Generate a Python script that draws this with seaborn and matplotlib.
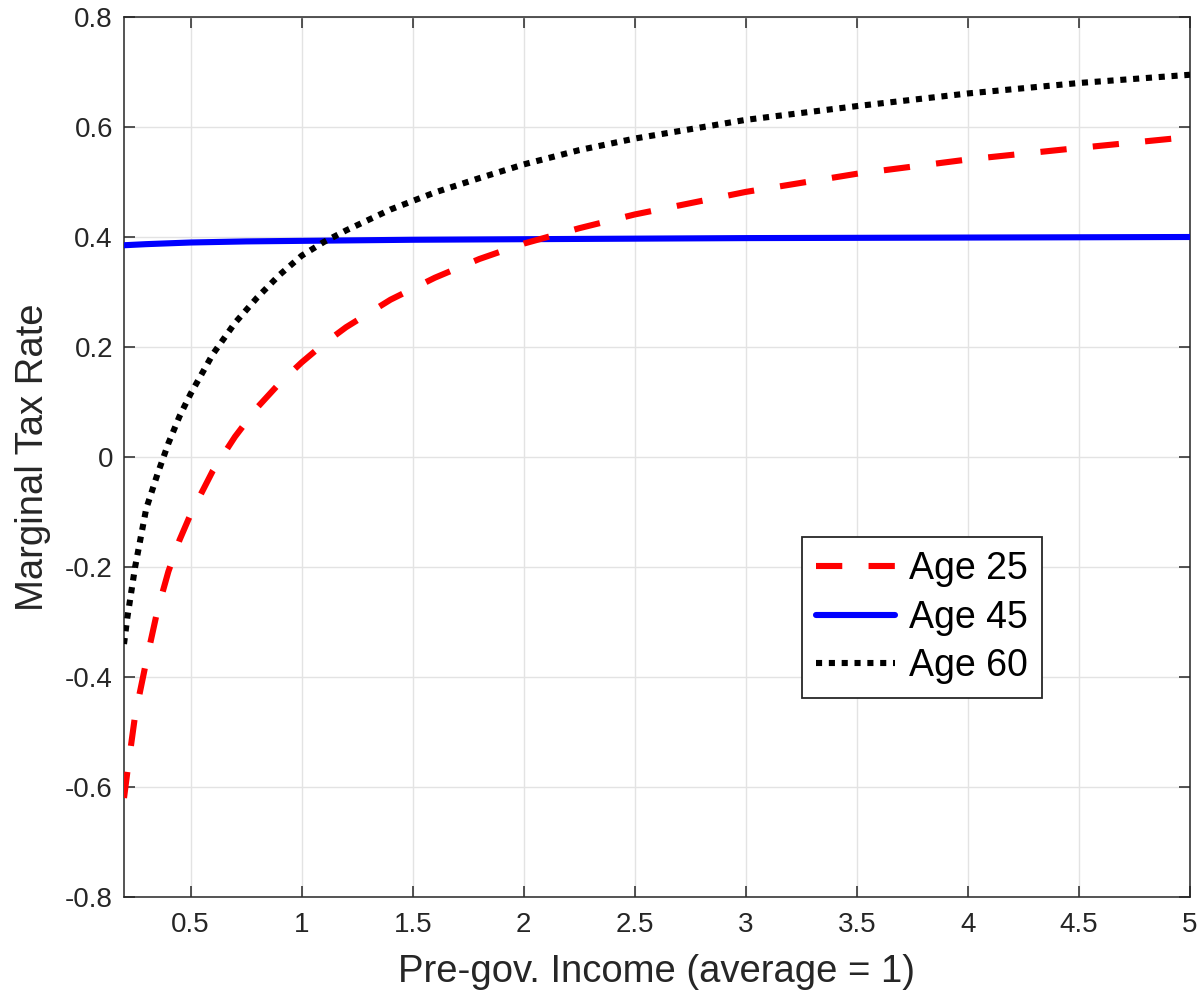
import matplotlib
matplotlib.use("Agg")
import matplotlib.pyplot as plt
import seaborn as sns
import pandas as pd
from matplotlib.ticker import FixedLocator, FuncFormatter

# ---- data ----
x_age25 = [0.2, 0.215, 0.25, 0.3, 0.35, 0.4, 0.45, 0.5, 0.6, 0.7, 0.8, 0.9, 1.0,
           1.1, 1.2, 1.4, 1.6, 1.8, 2.0, 2.25, 2.5, 3.0, 3.5, 4.0, 4.5, 5.0]
mtr_age25 = [-0.62, -0.573, -0.47, -0.372, -0.28, -0.208, -0.151, -0.104, -0.025,
             0.037, 0.090, 0.134, 0.172, 0.206, 0.236, 0.286, 0.326, 0.360, 0.388,
             0.416, 0.441, 0.482, 0.515, 0.541, 0.562, 0.582]

x_age45 = [0.2, 0.3, 0.5, 0.75, 1.0, 1.5, 2.0, 3.0, 4.0, 5.0]
mtr_age45 = [0.385, 0.387, 0.390, 0.392, 0.393, 0.395, 0.396, 0.398, 0.399, 0.400]

x_age60 = [0.2, 0.215, 0.25, 0.3, 0.35, 0.4, 0.45, 0.5, 0.6, 0.7, 0.8, 0.9, 1.0,
           1.1, 1.2, 1.4, 1.6, 1.8, 2.0, 2.25, 2.5, 3.0, 3.5, 4.0, 4.5, 5.0]
mtr_age60 = [-0.34, -0.292, -0.20, -0.094, -0.032, 0.025, 0.074, 0.115, 0.187,
             0.244, 0.290, 0.331, 0.366, 0.391, 0.412, 0.450, 0.481, 0.507, 0.532,
             0.558, 0.579, 0.613, 0.638, 0.661, 0.680, 0.695]

series_labels = ["Age 25", "Age 45", "Age 60"]
x_ticks = [0.5, 1, 1.5, 2, 2.5, 3, 3.5, 4, 4.5, 5]
y_ticks = [-0.8, -0.6, -0.4, -0.2, 0, 0.2, 0.4, 0.6, 0.8]
x_label = "Pre-gov. Income (average = 1)"
y_label = "Marginal Tax Rate"

# ---- style ----
sns.set_theme(style="ticks")
plt.rcParams["font.family"] = ["Liberation Sans", "DejaVu Sans"]
plt.rcParams["axes.unicode_minus"] = False

axis_col = "#262626"
fig = plt.figure(figsize=(12.01, 9.93), dpi=100)
ax = fig.add_axes([124 / 1201, 96 / 993, 1066 / 1201, 880 / 993])

lw = 4.4
df25 = pd.DataFrame({"x": x_age25, "y": mtr_age25})
df45 = pd.DataFrame({"x": x_age45, "y": mtr_age45})
df60 = pd.DataFrame({"x": x_age60, "y": mtr_age60})

sns.lineplot(data=df45, x="x", y="y", ax=ax, color="#0000ff", lw=lw,
             label=series_labels[1], zorder=3, sort=True)
sns.lineplot(data=df25, x="x", y="y", ax=ax, color="#ff0000", lw=lw,
             label=series_labels[0], zorder=4, sort=True)
sns.lineplot(data=df60, x="x", y="y", ax=ax, color="black", lw=lw,
             label=series_labels[2], zorder=5, sort=True)

lines = ax.get_lines()
l45, l25, l60 = lines[0], lines[1], lines[2]
l25.set_dashes([4.3, 4.3])
l25.set_dash_capstyle("butt")
l60.set_dashes([1.0, 1.1])
l60.set_dash_capstyle("butt")
for ln in (l45, l25, l60):
    ln.set_solid_joinstyle("round")

ax.set_xlim(0.2, 5)
ax.set_ylim(-0.8, 0.8)
ax.xaxis.set_major_locator(FixedLocator(x_ticks))
ax.yaxis.set_major_locator(FixedLocator(y_ticks))
fmt = FuncFormatter(lambda v, p: f"{v:g}")
ax.xaxis.set_major_formatter(fmt)
ax.yaxis.set_major_formatter(fmt)

ax.grid(True, color="#e3e3e3", lw=1.0, zorder=0)
ax.set_axisbelow(True)
for s in ax.spines.values():
    s.set_visible(True)
    s.set_color(axis_col)
    s.set_linewidth(1.1)
ax.tick_params(axis="both", which="major", direction="in", length=8, width=1.1,
               color=axis_col, labelcolor=axis_col, labelsize=20,
               top=True, right=True)
ax.tick_params(axis="x", pad=11)
ax.tick_params(axis="y", pad=8)

ax.set_xlabel(x_label, fontsize=27.5, color=axis_col, labelpad=11)
ax.set_ylabel(y_label, fontsize=27.5, color=axis_col, labelpad=10)

leg = ax.legend([l25, l45, l60], series_labels, loc="upper left",
                bbox_to_anchor=(0.636, 0.409), borderaxespad=0,
                fontsize=27, frameon=True, fancybox=False, shadow=False,
                framealpha=1, edgecolor=axis_col, handlelength=2.1,
                handletextpad=0.37, labelspacing=0.33, borderpad=0.38)
leg.get_frame().set_linewidth(1.3)
for t in leg.get_texts():
    t.set_color("black")

fig.savefig("out.png", dpi=100)
